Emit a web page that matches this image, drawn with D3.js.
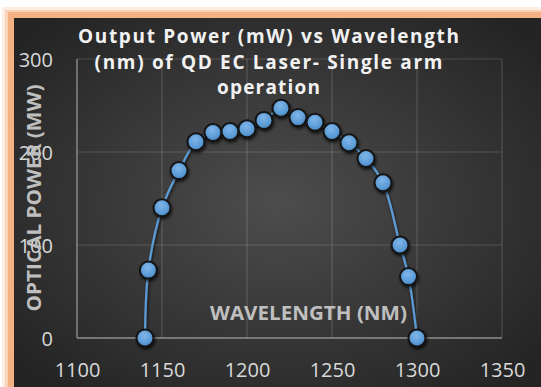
<!DOCTYPE html>
<html>
<head>
<meta charset="utf-8">
<script src="https://cdn.jsdelivr.net/npm/d3@7/dist/d3.min.js"></script>
<style>
  html, body { margin: 0; padding: 0; background: #ffffff; }
  svg { display: block; }
</style>
</head>
<body>
<svg id="chart" width="541" height="387"></svg>
<script>
// Measured output power of the QD external-cavity laser (single arm)
const wavelengths = [1140, 1142, 1150, 1160, 1170, 1180, 1190, 1200, 1210, 1220,
                     1230, 1240, 1250, 1260, 1270, 1280, 1290, 1295, 1300];
const powers      = [0, 73, 140, 180, 211, 221, 222, 225, 234, 247,
                     237, 232, 222, 210, 193, 167, 100, 66, 0];
const xTicks = [1100, 1150, 1200, 1250, 1300, 1350];
const yTicks = [0, 100, 200, 300];
const titleLines = ["Output Power (mW) vs Wavelength", "(nm) of QD EC Laser- Single arm", "operation"];

const W = 541, H = 387;
const svg = d3.select("#chart");
const defs = svg.append("defs");

// frame: soft peach glow, orange rim, dark chart body
svg.append("rect").attr("x", 2).attr("y", 7).attr("width", W - 2).attr("height", H - 7).attr("fill", "#fdeee4");
svg.append("rect").attr("x", 5).attr("y", 10).attr("width", W - 5).attr("height", H - 10).attr("fill", "#f9d3b8");
svg.append("rect").attr("x", 8).attr("y", 12).attr("width", W - 8).attr("height", H - 12).attr("fill", "#f4b183");

const bg = defs.append("radialGradient").attr("id", "bg")
  .attr("cx", "0.5").attr("cy", "0.5").attr("r", "0.65");
bg.append("stop").attr("offset", "0%").attr("stop-color", "#4d4d4d");
bg.append("stop").attr("offset", "100%").attr("stop-color", "#242424");
svg.append("rect").attr("x", 14).attr("y", 18).attr("width", W - 14).attr("height", H - 18).attr("fill", "url(#bg)");

// scales
const x = d3.scaleLinear().domain([1100, 1350]).range([77, 502]);
const y = d3.scaleLinear().domain([0, 300]).range([338, 59]);

// gridlines
const grid = svg.append("g").attr("class", "grid");
grid.selectAll("line.v").data(xTicks).join("line")
  .attr("x1", d => x(d)).attr("x2", d => x(d))
  .attr("y1", y(300)).attr("y2", y(0))
  .attr("stroke", "#ffffff").attr("stroke-opacity", 0.16).attr("stroke-width", 1.2);
grid.selectAll("line.h").data(yTicks).join("line")
  .attr("x1", x(1100)).attr("x2", x(1350))
  .attr("y1", d => y(d)).attr("y2", d => y(d))
  .attr("stroke", "#ffffff").attr("stroke-opacity", 0.16).attr("stroke-width", 1.2);
// axis lines
svg.append("line").attr("x1", x(1100)).attr("x2", x(1100)).attr("y1", y(300)).attr("y2", y(0))
  .attr("stroke", "#8a8a8a").attr("stroke-width", 1.3);
svg.append("line").attr("x1", x(1100)).attr("x2", x(1350)).attr("y1", y(0)).attr("y2", y(0))
  .attr("stroke", "#8a8a8a").attr("stroke-width", 1.3);

// tick labels
const tickFont = "'Open Sans', 'Liberation Sans', sans-serif";
const xAxis = svg.append("g").attr("transform", `translate(0,${y(0)})`)
  .call(d3.axisBottom(x).tickValues(xTicks).tickSize(0).tickPadding(0).tickFormat(d3.format("d")));
xAxis.select(".domain").remove();
xAxis.selectAll("text").attr("y", 39).attr("dy", null)
  .attr("fill", "#d9d9d9").style("font-family", tickFont).style("font-size", "20px");

const yAxis = svg.append("g").attr("transform", `translate(${x(1100)},0)`)
  .call(d3.axisLeft(y).tickValues(yTicks).tickSize(0).tickPadding(0).tickFormat(d3.format("d")));
yAxis.select(".domain").remove();
yAxis.selectAll("text").attr("x", -24).attr("dy", "0.36em")
  .attr("fill", "#d9d9d9").style("font-family", tickFont).style("font-size", "20px");

// axis titles
svg.append("text")
  .attr("transform", "translate(41,198) rotate(-90)")
  .attr("text-anchor", "middle")
  .attr("textLength", 227).attr("lengthAdjust", "spacingAndGlyphs")
  .attr("fill", "#bfbfbf").style("font-family", tickFont).style("font-weight", "bold").style("font-size", "20px")
  .text("OPTICAL POWER (MW)");
svg.append("text")
  .attr("x", 308.5).attr("y", 320)
  .attr("text-anchor", "middle")
  .attr("textLength", 197).attr("lengthAdjust", "spacingAndGlyphs")
  .attr("fill", "#bfbfbf").style("font-family", tickFont).style("font-weight", "bold").style("font-size", "20px")
  .text("WAVELENGTH (NM)");

// series line and markers
const shadow = defs.append("filter").attr("id", "shadow").attr("x", "-50%").attr("y", "-50%").attr("width", "200%").attr("height", "200%");
shadow.append("feDropShadow").attr("dx", 1).attr("dy", 2).attr("stdDeviation", 1.6)
  .attr("flood-color", "#000000").attr("flood-opacity", 0.7);

const pts = wavelengths.map((w, i) => [w, powers[i]]);
svg.append("path")
  .datum(pts)
  .attr("fill", "none")
  .attr("stroke", "#5b9bd5").attr("stroke-width", 2.2)
  .attr("filter", "url(#shadow)")
  .attr("d", d3.line().x(d => x(d[0])).y(d => y(d[1])).curve(d3.curveCatmullRom.alpha(0.5)));

const mk = defs.append("radialGradient").attr("id", "marker")
  .attr("cx", "0.45").attr("cy", "0.35").attr("r", "0.65");
mk.append("stop").attr("offset", "0%").attr("stop-color", "#7fb6ea");
mk.append("stop").attr("offset", "70%").attr("stop-color", "#5b9bd5");
mk.append("stop").attr("offset", "100%").attr("stop-color", "#4a88c2");

svg.append("g").selectAll("circle").data(pts).join("circle")
  .attr("cx", d => x(d[0])).attr("cy", d => y(d[1])).attr("r", 8.5)
  .attr("fill", "url(#marker)")
  .attr("stroke", "#141414").attr("stroke-width", 2)
  .attr("filter", "url(#shadow)");

// title
const titleY = [43, 69, 94];
const titleW = [381, 348, 103];
svg.append("g").selectAll("text").data(titleLines).join("text")
  .attr("x", 268.5).attr("y", (d, i) => titleY[i])
  .attr("text-anchor", "middle")
  .attr("textLength", (d, i) => titleW[i]).attr("lengthAdjust", "spacing")
  .attr("fill", "#f2f2f2")
  .style("font-family", tickFont).style("font-weight", "bold").style("font-size", "19px")
  .text(d => d);
</script>
</body>
</html>
